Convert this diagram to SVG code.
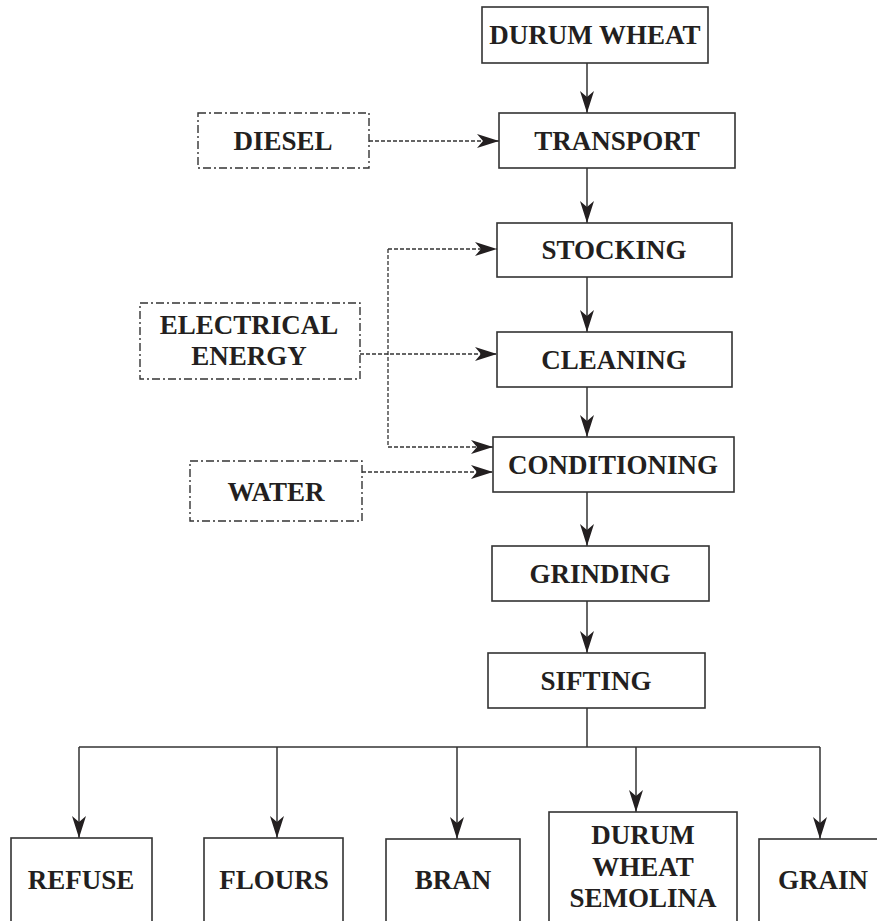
<svg xmlns="http://www.w3.org/2000/svg" width="877" height="921" viewBox="0 0 877 921">
<style>
.box{fill:#fff;stroke:#333;stroke-width:1.6}
.in{fill:#fff;stroke:#333;stroke-width:1.4;stroke-dasharray:8,3,2,3}
.t{font-family:"Liberation Serif","Times New Roman",serif;font-weight:bold;font-size:27px;fill:#231f20;text-anchor:middle}
.c{fill:none;stroke:#333;stroke-width:1.5}
.d{fill:none;stroke:#333;stroke-width:1.3;stroke-dasharray:4,2}
</style>
<defs>
<marker id="ah" markerUnits="userSpaceOnUse" markerWidth="24" markerHeight="16" refX="22" refY="7" orient="auto">
<path d="M0,0 L22,7 L0,14 L6,7 Z" fill="#231f20"/>
</marker>
</defs>
<rect width="877" height="921" fill="#fff"/>
<g id="connectors">
<line class="c" x1="587" y1="63" x2="587" y2="113" marker-end="url(#ah)"/>
<line class="c" x1="587" y1="168" x2="587" y2="223" marker-end="url(#ah)"/>
<line class="c" x1="587" y1="277" x2="587" y2="332" marker-end="url(#ah)"/>
<line class="c" x1="587" y1="387" x2="587" y2="437" marker-end="url(#ah)"/>
<line class="c" x1="587" y1="492" x2="587" y2="546" marker-end="url(#ah)"/>
<line class="c" x1="587" y1="601" x2="587" y2="653" marker-end="url(#ah)"/>
<line class="c" x1="587" y1="708" x2="587" y2="747"/>
<line class="c" x1="79" y1="747" x2="820" y2="747"/>
<line class="c" x1="79" y1="747" x2="79" y2="838" marker-end="url(#ah)"/>
<line class="c" x1="277" y1="747" x2="277" y2="838" marker-end="url(#ah)"/>
<line class="c" x1="457" y1="747" x2="457" y2="839" marker-end="url(#ah)"/>
<line class="c" x1="636" y1="747" x2="636" y2="812" marker-end="url(#ah)"/>
<line class="c" x1="820" y1="747" x2="820" y2="839" marker-end="url(#ah)"/>
<line class="d" x1="369" y1="141" x2="499" y2="141" marker-end="url(#ah)"/>
<line class="d" x1="360" y1="354" x2="497" y2="354" marker-end="url(#ah)"/>
<line class="d" x1="388" y1="249" x2="388" y2="447"/>
<line class="d" x1="388" y1="249" x2="497" y2="249" marker-end="url(#ah)"/>
<line class="d" x1="388" y1="447" x2="493" y2="447" marker-end="url(#ah)"/>
<line class="d" x1="362" y1="472" x2="493" y2="472" marker-end="url(#ah)"/>
</g>
<g id="durum-wheat"><rect class="box" x="482" y="7" width="226" height="56"/><text class="t" x="595" y="44">DURUM WHEAT</text></g>
<g id="transport"><rect class="box" x="499" y="113" width="236" height="55"/><text class="t" x="617" y="150">TRANSPORT</text></g>
<g id="stocking"><rect class="box" x="497" y="223" width="235" height="54"/><text class="t" x="614" y="259">STOCKING</text></g>
<g id="cleaning"><rect class="box" x="497" y="332" width="235" height="55"/><text class="t" x="614" y="369">CLEANING</text></g>
<g id="conditioning"><rect class="box" x="493" y="437" width="241" height="55"/><text class="t" x="613" y="474">CONDITIONING</text></g>
<g id="grinding"><rect class="box" x="492" y="546" width="217" height="55"/><text class="t" x="600" y="583">GRINDING</text></g>
<g id="sifting"><rect class="box" x="488" y="653" width="217" height="55"/><text class="t" x="596" y="690">SIFTING</text></g>
<g id="diesel"><rect class="in" x="198" y="113" width="171" height="55"/><text class="t" x="283" y="150">DIESEL</text></g>
<g id="electrical-energy"><rect class="in" x="140" y="303" width="220" height="76"/><text class="t" x="249" y="334">ELECTRICAL</text><text class="t" x="249" y="365">ENERGY</text></g>
<g id="water"><rect class="in" x="190" y="461" width="172" height="60"/><text class="t" x="276" y="501">WATER</text></g>
<g id="refuse"><rect class="box" x="11" y="838" width="141" height="100"/><text class="t" x="81" y="889">REFUSE</text></g>
<g id="flours"><rect class="box" x="204" y="838" width="139" height="100"/><text class="t" x="274" y="889">FLOURS</text></g>
<g id="bran"><rect class="box" x="386" y="839" width="134" height="100"/><text class="t" x="453" y="889">BRAN</text></g>
<g id="semolina"><rect class="box" x="549" y="812" width="188" height="130"/><text class="t" x="643" y="844">DURUM</text><text class="t" x="643" y="876">WHEAT</text><text class="t" x="643" y="907">SEMOLINA</text></g>
<g id="grain"><rect class="box" x="759" y="839" width="128" height="100"/><text class="t" x="823" y="889">GRAIN</text></g>
</svg>
